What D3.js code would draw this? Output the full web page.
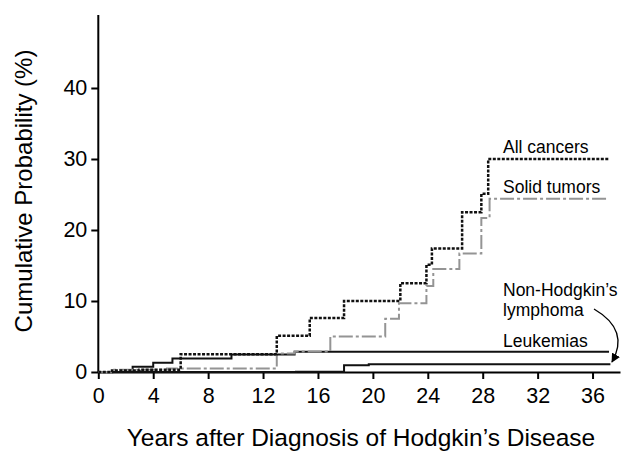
<!DOCTYPE html>
<html>
<head>
<meta charset="utf-8">
<script src="https://cdn.jsdelivr.net/npm/d3@7/dist/d3.min.js"></script>
<style>
body { margin: 0; background: #fff; }
#chart { width: 633px; height: 454px; }
text { font-family: "Liberation Sans", Arial, Helvetica, sans-serif; fill: #000; }
</style>
</head>
<body>
<div id="chart"></div>
<script>

// step points (years, cumulative %)
var allYears = [0, 1, 3, 6, 13, 15.4, 17.9, 22, 23.9, 24.3, 26.5, 27.9, 28.4, 37.2];
var allValues = [0, 0.2, 0.3, 2.5, 5.1, 7.6, 10.0, 12.5, 15.1, 17.4, 22.5, 25.1, 30.0, 30.0];

var solidYears = [0, 1, 5, 13, 14.3, 16.9, 20.9, 21.9, 23.9, 24.4, 26.3, 27.9, 28.5, 37.2];
var solidValues = [0, 0.3, 0.5, 2.6, 2.9, 5.0, 7.5, 9.7, 12.1, 14.5, 16.7, 21.7, 24.4, 24.4];

var leukYears = [0, 2.5, 4.0, 5.4, 9.7, 14.3, 37.2];
var leukValues = [0, 0.75, 1.3, 1.9, 2.45, 2.85, 2.85];

var nhlYears = [0, 14.4, 17.9, 19.7, 37.3];
var nhlValues = [0, 0.05, 0.95, 1.1, 1.1];

var xTicks = [0, 4, 8, 12, 16, 20, 24, 28, 32, 36];
var yTicks = [0, 10, 20, 30, 40];

var width = 633, height = 454;

var svg = d3.select("#chart")
    .append("svg")
    .attr("width", width)
    .attr("height", height);

var x = d3.scaleLinear().domain([0, 38]).range([98.3, 620]);
var y = d3.scaleLinear().domain([0, 50]).range([372, 17]);

function pts(xs, vs) {
    return xs.map(function(d, i) { return [d, vs[i]]; });
}

var line = d3.line()
    .x(function(d) { return x(d[0]); })
    .y(function(d) { return y(d[1]); })
    .curve(d3.curveStepAfter);

// axes
var xAxis = svg.append("g")
    .attr("transform", "translate(0," + y(0) + ")")
    .call(d3.axisBottom(x).tickValues(xTicks).tickSize(7).tickPadding(9).tickSizeOuter(0));

var yAxis = svg.append("g")
    .attr("transform", "translate(" + x(0) + ",0)")
    .call(d3.axisLeft(y).tickValues(yTicks).tickSize(7).tickPadding(4).tickSizeOuter(0));

[xAxis, yAxis].forEach(function(a) {
    a.select(".domain").attr("stroke", "#000").attr("stroke-width", 2);
    a.selectAll(".tick line").attr("stroke", "#000").attr("stroke-width", 2);
    a.selectAll(".tick text")
        .attr("font-size", 21.5)
        .attr("font-family", "Liberation Sans, Arial, sans-serif")
        .attr("fill", "#000");
});
yAxis.select(".domain").attr("d", "M0," + y(0) + "V15");

// series
svg.append("path")
    .datum(pts(nhlYears, nhlValues))
    .attr("fill", "none")
    .attr("stroke", "#111")
    .attr("stroke-width", 2)
    .attr("d", line);

svg.append("path")
    .datum(pts(leukYears, leukValues))
    .attr("fill", "none")
    .attr("stroke", "#111")
    .attr("stroke-width", 2)
    .attr("d", line);

svg.append("path")
    .datum(pts(solidYears, solidValues))
    .attr("fill", "none")
    .attr("stroke", "#949494")
    .attr("stroke-width", 2)
    .attr("stroke-dasharray", "14,3,3,3")
    .attr("d", line);

svg.append("path")
    .datum(pts(allYears, allValues))
    .attr("fill", "none")
    .attr("stroke", "#111")
    .attr("stroke-width", 2.5)
    .attr("stroke-dasharray", "3,1.5")
    .attr("d", line);

// labels
var labels = [
    {t: "All cancers", x: 503, y: 153},
    {t: "Solid tumors", x: 503, y: 193},
    {t: "Non-Hodgkin\u2019s", x: 503, y: 295.5},
    {t: "lymphoma", x: 503, y: 316},
    {t: "Leukemias", x: 503, y: 347}
];
svg.selectAll(".lbl")
    .data(labels)
    .enter()
    .append("text")
    .attr("class", "lbl")
    .attr("x", function(d) { return d.x; })
    .attr("y", function(d) { return d.y; })
    .attr("font-size", 17.5)
    .text(function(d) { return d.t; });

// arrow to the NHL line
svg.append("defs").append("marker")
    .attr("id", "ah")
    .attr("viewBox", "0 0 10 10")
    .attr("refX", 9).attr("refY", 5)
    .attr("markerWidth", 7).attr("markerHeight", 7)
    .attr("orient", "auto")
    .append("path")
    .attr("d", "M0,0L10,5L0,10z")
    .attr("fill", "#000");

var ap = d3.path();
ap.moveTo(594, 309);
ap.quadraticCurveTo(630, 330, 612, 362);
svg.append("path")
    .attr("d", ap.toString())
    .attr("fill", "none")
    .attr("stroke", "#000")
    .attr("stroke-width", 1.3)
    .attr("marker-end", "url(#ah)");

// axis titles
svg.append("text")
    .attr("x", 361)
    .attr("y", 446)
    .attr("text-anchor", "middle")
    .attr("font-size", 24.5)
    .text("Years after Diagnosis of Hodgkin\u2019s Disease");

svg.append("text")
    .attr("transform", "translate(32,191) rotate(-90)")
    .attr("text-anchor", "middle")
    .attr("font-size", 24)
    .text("Cumulative Probability (%)");

</script>
</body>
</html>
